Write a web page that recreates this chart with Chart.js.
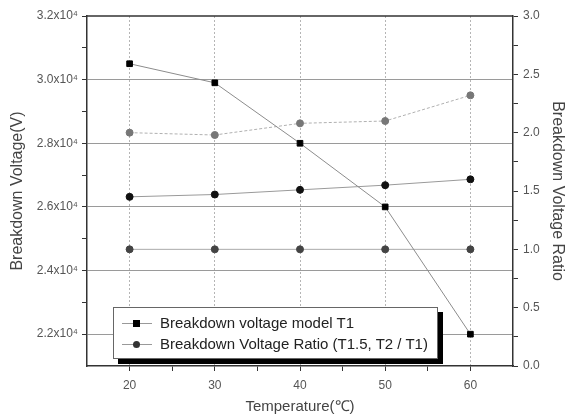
<!DOCTYPE html>
<html>
<head>
<meta charset="utf-8">
<script src="https://cdn.jsdelivr.net/npm/chart.js@4.4.0/dist/chart.umd.min.js"></script>
<style>
  body { margin: 0; background: #fff; }
  #wrap { position: relative; width: 565px; height: 416px; }
  #legend {
    position: absolute; left: 113px; top: 307px; width: 323px; height: 50px;
    background: #fff; border: 1px solid #666; box-shadow: 5px 5px 0 #000;
    font-family: "Liberation Sans", Arial, sans-serif; font-size: 15px; color: #222;
  }
  .row { position: absolute; left: 0; height: 20px; line-height: 20px; white-space: nowrap; }
  .mk { position: absolute; left: 8px; top: 10px; width: 30px; border-top: 1px solid #999; }
  .mk i { position: absolute; left: 11px; top: -4px; width: 7px; height: 7px; background: #000; }
  .mk i.c { border-radius: 50%; background: #333; }
  .row span { position: absolute; left: 46px; }
</style>
</head>
<body>
<div id="wrap">
  <canvas id="myChart" width="565" height="416"></canvas>
  <div id="legend">
    <div class="row" style="top:5px"><div class="mk"><i></i></div><span>Breakdown voltage model T1</span></div>
    <div class="row" style="top:26px"><div class="mk"><i class="c"></i></div><span>Breakdown Voltage Ratio (T1.5, T2 / T1)</span></div>
  </div>
</div>
<script>
var temps = [20, 30, 40, 50, 60];
var modelT1 = [30500, 29900, 28000, 26000, 22000];
var ratioT1 = [1.0, 1.0, 1.0, 1.0, 1.0];
var ratioT15 = [1.45, 1.47, 1.51, 1.55, 1.60];
var ratioT2 = [2.00, 1.98, 2.08, 2.10, 2.32];
var xLabels = [20, 30, 40, 50, 60];

function pts(ys) {
    return temps.map(function (t, i) { return { x: t, y: ys[i] }; });
}

// top frame line (the reference plot is boxed)
var frame = {
    id: 'frame',
    afterDraw: function (chart) {
        var a = chart.chartArea, c = chart.ctx;
        c.save();
        c.strokeStyle = '#333';
        c.lineWidth = 1.5;
        c.beginPath();
        c.moveTo(a.left, a.top);
        c.lineTo(a.right, a.top);
        c.stroke();
        c.restore();
    }
};

var tickFont = { family: 'Liberation Sans', size: 12 };
var titleFont = { family: 'Liberation Sans', size: 16, lineHeight: 1 };

const ctx = document.getElementById('myChart');

let chart = new Chart(ctx, {
    type: 'line',
    data: {
        datasets: [{
            label: 'Breakdown voltage model T1',
            data: pts(modelT1),
            yAxisID: 'y',
            borderColor: '#8c8c8c',
            borderWidth: 1,
            pointStyle: 'rect',
            pointRadius: 4,
            pointBackgroundColor: '#000',
            pointBorderColor: '#000',
            tension: 0
        }, {
            label: 'Ratio T2 / T1',
            data: pts(ratioT2),
            yAxisID: 'y2',
            borderColor: '#b0b0b0',
            borderWidth: 1,
            borderDash: [3, 2],
            pointRadius: 3.5,
            pointBackgroundColor: '#777',
            pointBorderColor: '#777',
            tension: 0
        }, {
            label: 'Ratio T1.5 / T1',
            data: pts(ratioT15),
            yAxisID: 'y2',
            borderColor: '#9a9a9a',
            borderWidth: 1,
            pointRadius: 3.5,
            pointBackgroundColor: '#111',
            pointBorderColor: '#111',
            tension: 0
        }, {
            label: 'Ratio T1 / T1',
            data: pts(ratioT1),
            yAxisID: 'y2',
            borderColor: '#aaa',
            borderWidth: 1,
            pointRadius: 3.5,
            pointBackgroundColor: '#444',
            pointBorderColor: '#444',
            tension: 0
        }]
    },
    options: {
        responsive: false,
        animation: false,
        layout: { padding: { top: 16, left: 0, right: 0, bottom: 0 } },
        plugins: { legend: { display: false }, tooltip: { enabled: false } },
        scales: {
            x: {
                type: 'linear',
                min: 15,
                max: 65,
                afterFit: function (s) { s.height = 50; },
                ticks: {
                    stepSize: 5,
                    autoSkip: false,
                    maxRotation: 0,
                    padding: 7,
                    color: '#555',
                    font: tickFont,
                    callback: function (v) { return xLabels.indexOf(v) >= 0 ? String(v) : ''; }
                },
                grid: {
                    color: function (c) { return xLabels.indexOf(c.tick && c.tick.value) >= 0 ? '#b5b5b5' : 'rgba(0,0,0,0)'; },
                    tickColor: function (c) { var v = c.tick && c.tick.value; return (v > 15 && v < 65) ? '#333' : 'rgba(0,0,0,0)'; },
                    tickLength: 5
                },
                border: { color: '#333', width: 1.5, dash: [2, 2] },
                title: { display: true, text: 'Temperature(℃)', color: '#444', font: { family: 'Liberation Sans', size: 15, lineHeight: 1 }, padding: { top: 0, bottom: 2 } }
            },
            y: {
                position: 'left',
                min: 21000,
                max: 32000,
                afterFit: function (s) { s.width = 87; },
                ticks: {
                    stepSize: 1000,
                    autoSkip: false,
                    padding: 4,
                    color: '#555',
                    font: tickFont,
                    callback: function (v) { return (v % 2000 === 0) ? (v / 10000).toFixed(1) + 'x10⁴' : ''; }
                },
                grid: {
                    color: function (c) { var v = c.tick && c.tick.value; return (v % 2000 === 0 && v < 32000) ? '#9a9a9a' : 'rgba(0,0,0,0)'; },
                    tickColor: function (c) { var v = c.tick && c.tick.value; return v > 21000 ? '#333' : 'rgba(0,0,0,0)'; },
                    tickLength: 5
                },
                border: { color: '#333', width: 1.5 },
                title: { display: true, text: 'Breakdown Voltage(V)', color: '#444', font: titleFont, padding: { top: 10, bottom: 0 } }
            },
            y2: {
                position: 'right',
                min: 0,
                max: 3,
                afterFit: function (s) { s.width = 52; },
                ticks: {
                    stepSize: 0.25,
                    autoSkip: false,
                    padding: 5,
                    color: '#555',
                    font: tickFont,
                    callback: function (v) { return (Math.round(v * 100) % 50 === 0) ? v.toFixed(1) : ''; }
                },
                grid: {
                    drawOnChartArea: false,
                    tickColor: '#333',
                    tickLength: 5
                },
                border: { color: '#333', width: 1.5 },
                title: { display: true, text: 'Breakdown Voltage Ratio', color: '#444', font: titleFont, padding: { top: 0, bottom: 0 } }
            }
        }
    },
    plugins: [frame]
});
</script>
</body>
</html>
